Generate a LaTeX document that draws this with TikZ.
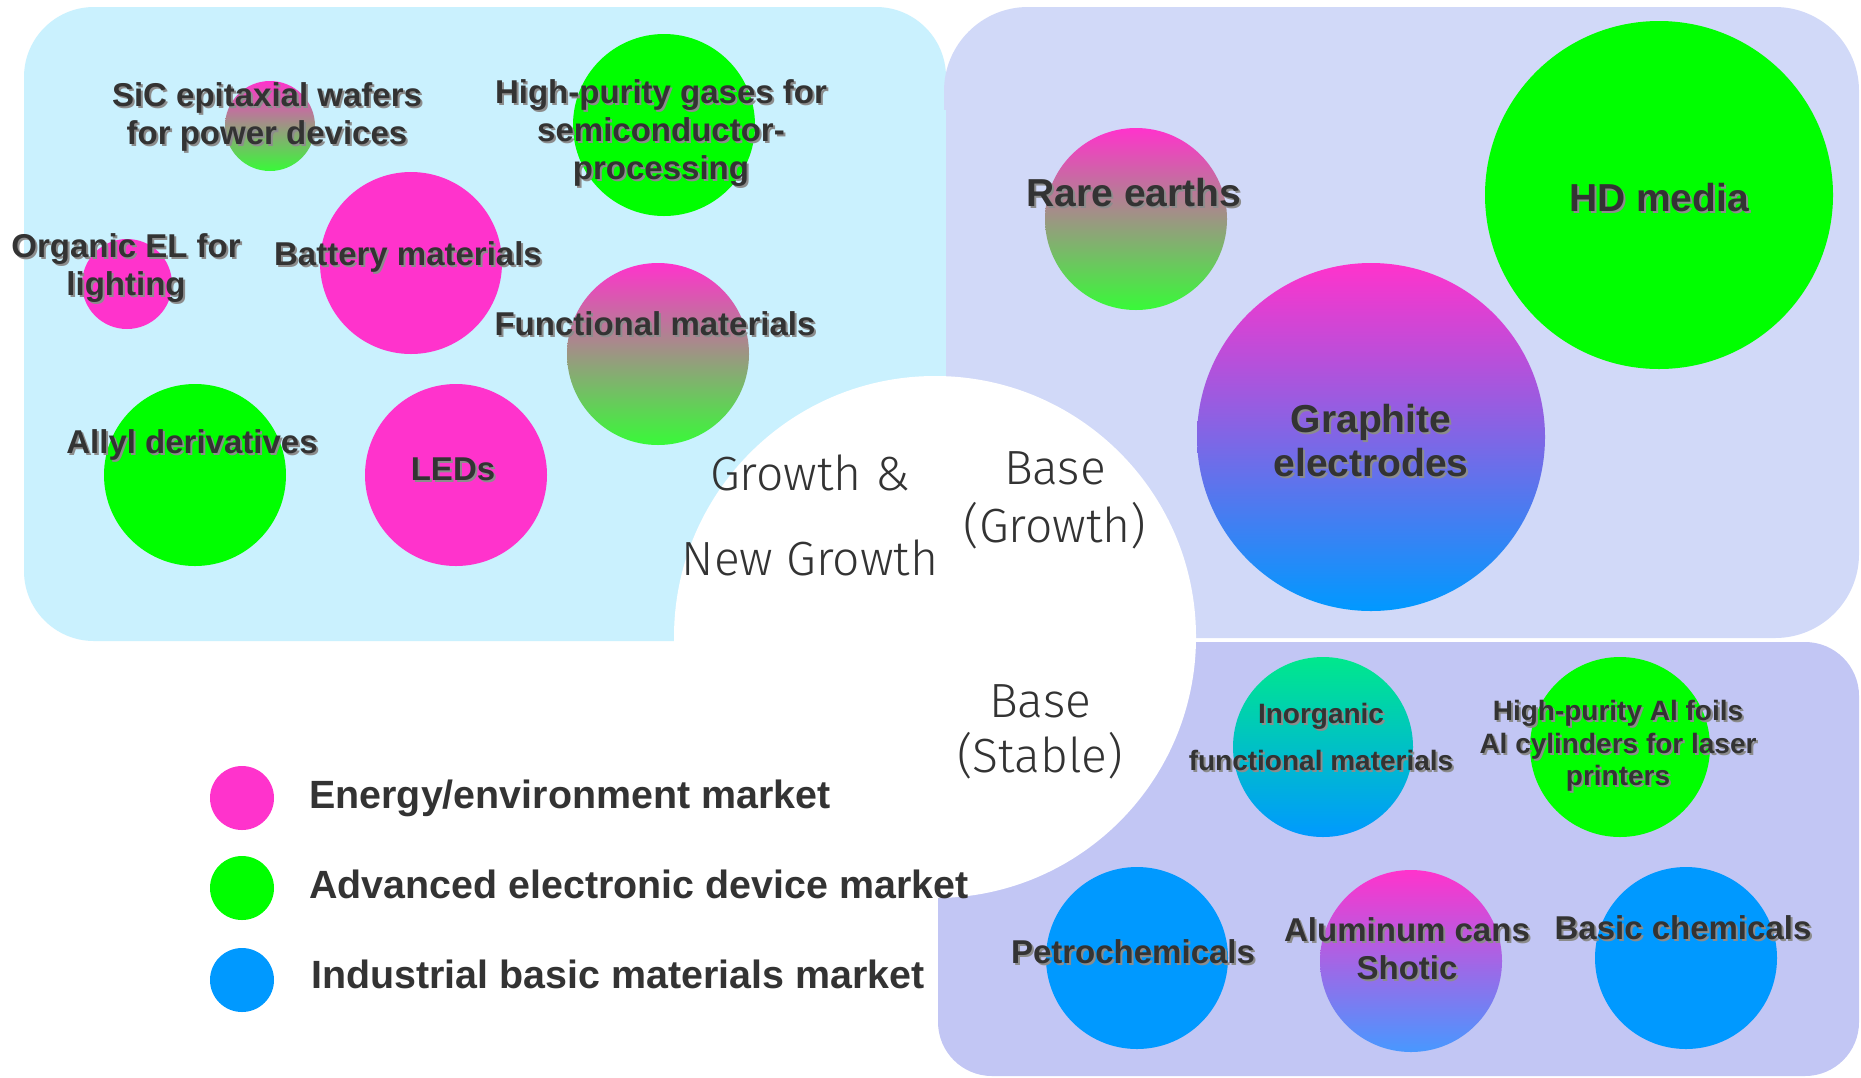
\documentclass[tikz,border=0pt]{standalone}
\usepackage{fontspec}
\setmainfont{Liberation Sans}
\newfontfamily\lightfont{Fira Sans Light}

\definecolor{ink}{HTML}{333333}
\definecolor{inkshadow}{HTML}{8C8C8C}
\definecolor{pinkc}{HTML}{FF33CC}
\definecolor{greenc}{HTML}{00FF00}
\definecolor{bluec}{HTML}{0099FF}
\definecolor{growthbg}{HTML}{CAF1FE}
\definecolor{basegbg}{HTML}{D1D9F8}
\definecolor{basesbg}{HTML}{C2C6F4}
\definecolor{tanmix}{HTML}{D2AEA6}
\definecolor{leafmix}{HTML}{38FA38}
\definecolor{violetmix}{HTML}{C262DA}
\definecolor{skymix}{HTML}{4898FF}
\definecolor{mintc}{HTML}{00E88C}

\tikzset{
  bubble/.style={circle, inner sep=0pt, draw=none},
  pinkbubble/.style={bubble, fill=pinkc},
  greenbubble/.style={bubble, fill=greenc},
  bluebubble/.style={bubble, fill=bluec},
  pinkgreen/.style={bubble, top color=pinkc, middle color=tanmix, bottom color=leafmix},
  pinkblue/.style={bubble, top color=pinkc, middle color=violetmix, bottom color=bluec},
  pinksky/.style={bubble, top color=pinkc, middle color=violetmix, bottom color=skymix},
  mintblue/.style={bubble, top color=mintc, bottom color=bluec},
  labeltext/.style={text=ink, font=\bfseries\fontsize{16.5}{19}\selectfont, align=center, inner sep=0pt},
  labelshadow/.style={labeltext, text=inkshadow},
  biglabel/.style={font=\bfseries\fontsize{19.5}{22}\selectfont},
  smalllabel/.style={font=\bfseries\fontsize{14}{16.25}\selectfont},
  zonetext/.style={text=ink, font=\lightfont\fontsize{24}{42.5}\selectfont, align=center, inner sep=0pt},
  legendtext/.style={text=ink, font=\bfseries\fontsize{19.7}{24}\selectfont, anchor=base west, inner sep=0pt},
}

% label with a soft drop shadow: name, x, y, extra style, text
\newcommand\bubbletext[5]{%
  \node[labelshadow,#4] at (#2+2,#3+2) {#5};
  \node[labeltext,#4] (#1) at (#2,#3) {#5};}

\begin{document}
\begin{tikzpicture}[x=0.5pt,y=-0.5pt]
\useasboundingbox (0,0) rectangle (1861,1077);
\fill[white] (0,0) rectangle (1861,1077);

% market zones
\fill[growthbg, rounded corners=35pt] (24,7) rectangle (946,641);
\fill[basegbg, rounded corners=42pt] (944,7) rectangle (1859,638);
\fill[growthbg] (944,110) rectangle (946,560);
\fill[basesbg, rounded corners=27pt] (938,642) rectangle (1859,1076);
\node[circle, fill=white, inner sep=0pt, minimum size=261pt] (hub) at (935,637) {};

% growth & new growth bubbles
\node[pinkgreen, minimum size=45pt] (sic) at (270,126) {};
\node[greenbubble, minimum size=91pt] (gases) at (664,125) {};
\node[pinkbubble, minimum size=45pt] (oel) at (127,284) {};
\node[pinkbubble, minimum size=91pt] (battery) at (411,263) {};
\node[pinkgreen, minimum size=91pt] (functional) at (658,354) {};
\node[greenbubble, minimum size=91pt] (allyl) at (195,475) {};
\node[pinkbubble, minimum size=91pt] (leds) at (456,475) {};

% base (growth) bubbles
\node[pinkgreen, minimum size=91pt] (rare) at (1136,219) {};
\node[greenbubble, minimum size=174pt] (hd) at (1659,195) {};
\node[pinkblue, minimum size=174pt] (graphite) at (1371,437) {};

% base (stable) bubbles
\node[mintblue, minimum size=90pt] (inorganic) at (1323,747) {};
\node[greenbubble, minimum size=90pt] (alfoil) at (1620,747) {};
\node[bluebubble, minimum size=91pt] (petro) at (1137,958) {};
\node[pinksky, minimum size=91pt] (cans) at (1411,961) {};
\node[bluebubble, minimum size=91pt] (basic) at (1686,958) {};

% bubble labels
\bubbletext{sicT}{267}{117}{}{SiC epitaxial wafers\\for power devices}
\bubbletext{gasesT}{661}{133}{}{High-purity gases for\\semiconductor-\\processing}
\bubbletext{oelT}{126}{268}{}{Organic EL for\\lighting}
\bubbletext{batteryT}{408}{257}{}{Battery materials}
\bubbletext{functionalT}{655}{324}{}{Functional materials}
\bubbletext{allylT}{192}{445}{}{Allyl derivatives}
\bubbletext{ledsT}{453}{469}{}{LEDs}
\bubbletext{rareT}{1134}{193}{biglabel}{Rare earths}
\bubbletext{hdT}{1659}{198}{biglabel}{HD media}
\bubbletext{graphiteT}{1371}{441}{biglabel}{Graphite\\electrodes}
\bubbletext{inorganicT}{1321}{737}{font=\bfseries\fontsize{14}{23.5}\selectfont}{Inorganic\\functional materials}
\bubbletext{alfoilT}{1618}{746}{smalllabel}{High-purity Al foils\\Al cylinders for laser\\printers}
\bubbletext{petroT}{1133}{952}{}{Petrochemicals}
\bubbletext{cansT}{1407}{949}{}{Aluminum cans\\Shotic}
\bubbletext{basicT}{1683}{928}{}{Basic chemicals}

% zone titles
\node[zonetext] (growthT) at (810,515) {Growth \&\\New Growth};
\node[zonetext, font=\lightfont\fontsize{24}{29}\selectfont] (basegT) at (1055,500) {Base\\(Growth)};
\node[zonetext, font=\lightfont\fontsize{24}{27.5}\selectfont] (basesT) at (1040,732) {Base\\(Stable)};

% legend
\node[pinkbubble, minimum size=32pt] (lgpink) at (242,798) {};
\node[greenbubble, minimum size=32pt] (lggreen) at (242,888) {};
\node[bluebubble, minimum size=32pt] (lgblue) at (242,980) {};
\node[legendtext] (lgpinkT) at (309,808) {Energy/environment market};
\node[legendtext] (lggreenT) at (309,898) {Advanced electronic device market};
\node[legendtext] (lgblueT) at (311,988) {Industrial basic materials market};
\end{tikzpicture}
\end{document}
